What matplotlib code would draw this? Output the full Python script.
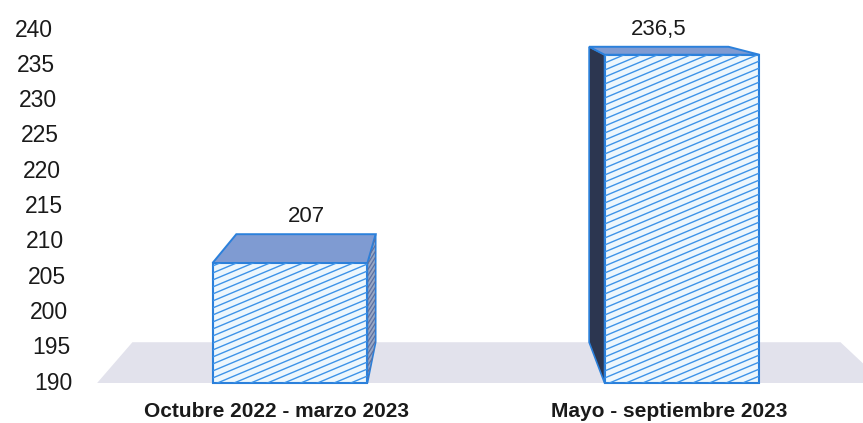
import matplotlib
matplotlib.use("Agg")
import numpy as np
import matplotlib.pyplot as plt
from matplotlib.patches import Polygon
from matplotlib.collections import LineCollection
from matplotlib.transforms import ScaledTranslation, blended_transform_factory, IdentityTransform

# ---- data ----
categories = ["Octubre 2022 - marzo 2023", "Mayo - septiembre 2023"]
values = [207, 236.5]
value_labels = ["207", "236,5"]
y_ticks = [190, 195, 200, 205, 210, 215, 220, 225, 230, 235, 240]
y_base = 190

plt.rcParams['font.family'] = ['Liberation Sans', 'DejaVu Sans']

fig = plt.figure(figsize=(8.63, 4.23), dpi=100)
ax = fig.add_axes([80 / 863, 1 - 383 / 423, 770 / 863, 367.1 / 423])
ax.set_ylim(190, 242)
ax.set_xlim(-0.5357, 1.4286)
for s in ax.spines.values():
    s.set_visible(False)
ax.set_yticks([])

xpos = list(range(len(categories)))
bar_w = 0.395
blue = '#2b80db'

# perspective helpers (vanishing point in axes fraction, depth factor)
V = ax.transAxes.transform((0.4805, 1.111))
k = 0.1

def back(pt_data):
    p = ax.transData.transform(pt_data)
    q = p + k * (V - p)
    return ax.transData.inverted().transform(q)

def hatch_lines(patch, color, spacing=7.0, slope=0.42, lw=1.0, z=4.5):
    """Shallow diagonal hatching clipped to a patch (display coords)."""
    verts = patch.get_transform().transform(patch.get_path().vertices)
    X0, X1 = verts[:, 0].min(), verts[:, 0].max()
    Y0, Y1 = verts[:, 1].min(), verts[:, 1].max()
    segs = []
    c = Y0 - slope * (X1 - X0)
    while c < Y1:
        segs.append([(X0, c), (X1, c + slope * (X1 - X0))])
        c += spacing
    lc = LineCollection(segs, colors=color, linewidths=lw, transform=IdentityTransform(),
                        zorder=z)
    fig.add_artist(lc)
    lc.set_clip_path(patch)

# floor
fl, fr = -0.492, 1.515
floor = [(fl, y_base), (fr, y_base), tuple(back((fr, y_base))), tuple(back((fl, y_base)))]
ax.add_patch(Polygon(floor, closed=True, facecolor='#e2e2ec', edgecolor='none',
                     zorder=1, clip_on=False))

bars = ax.bar(xpos, [v - y_base for v in values], bottom=y_base, width=bar_w,
              facecolor='#edf7fd', edgecolor='none', zorder=4, clip_on=False)
for b in bars:
    hatch_lines(b, '#3d93e8', z=4.5)
    ax.add_patch(plt.Rectangle(b.get_xy(), b.get_width(), b.get_height(), fill=False,
                               edgecolor=blue, linewidth=1.5, zorder=4.8, clip_on=False))

Vx_data = ax.transData.inverted().transform(V)[0]
for xc, v, lab in zip(xpos, values, value_labels):
    x0, x1 = xc - bar_w / 2, xc + bar_w / 2
    # side face
    if xc < Vx_data:
        side = [(x1, v), (x1, y_base), tuple(back((x1, y_base))), tuple(back((x1, v)))]
        sc, hc = '#9aa8c4', '#5d70a0'
    else:
        side = [(x0, v), (x0, y_base), tuple(back((x0, y_base))), tuple(back((x0, v)))]
        sc, hc = '#2c3650', None
    sp = Polygon(side, closed=True, facecolor=sc, edgecolor=blue,
                 linewidth=1.2, zorder=3, clip_on=False)
    ax.add_patch(sp)
    if hc:
        hatch_lines(sp, hc, spacing=6.0, slope=1.6, lw=0.9, z=3.5)
    # top face
    top = [(x0, v), (x1, v), tuple(back((x1, v))), tuple(back((x0, v)))]
    ax.add_patch(Polygon(top, closed=True, facecolor='#7f9bd2', edgecolor=blue,
                         linewidth=1.4, zorder=5, clip_on=False))
    bx, by = back((xc, v))
    ax.annotate(lab, (bx, by), xytext=(0, 5), textcoords='offset points',
                ha='center', va='bottom', fontsize=16, color='#1a1a1a', zorder=6)

# y tick labels (slanted axis)
ytr = blended_transform_factory(ax.transAxes, ax.transData)
for t in y_ticks:
    dx = (-8 - (t - y_base) * 0.38) / 100.0
    ax.text(0, t, str(t), transform=ytr + ScaledTranslation(dx, 0, fig.dpi_scale_trans),
            ha='right', va='center', fontsize=16.5, color='#1a1a1a')

ax.set_xticks(xpos)
ax.set_xticklabels(categories, fontsize=15, fontweight='bold', color='#1a1a1a')
ax.tick_params(axis='x', length=0, pad=14)
for lbl in ax.get_xticklabels():
    lbl.set_transform(lbl.get_transform() + ScaledTranslation(-0.13, 0, fig.dpi_scale_trans))

fig.savefig('out.png', dpi=100)
